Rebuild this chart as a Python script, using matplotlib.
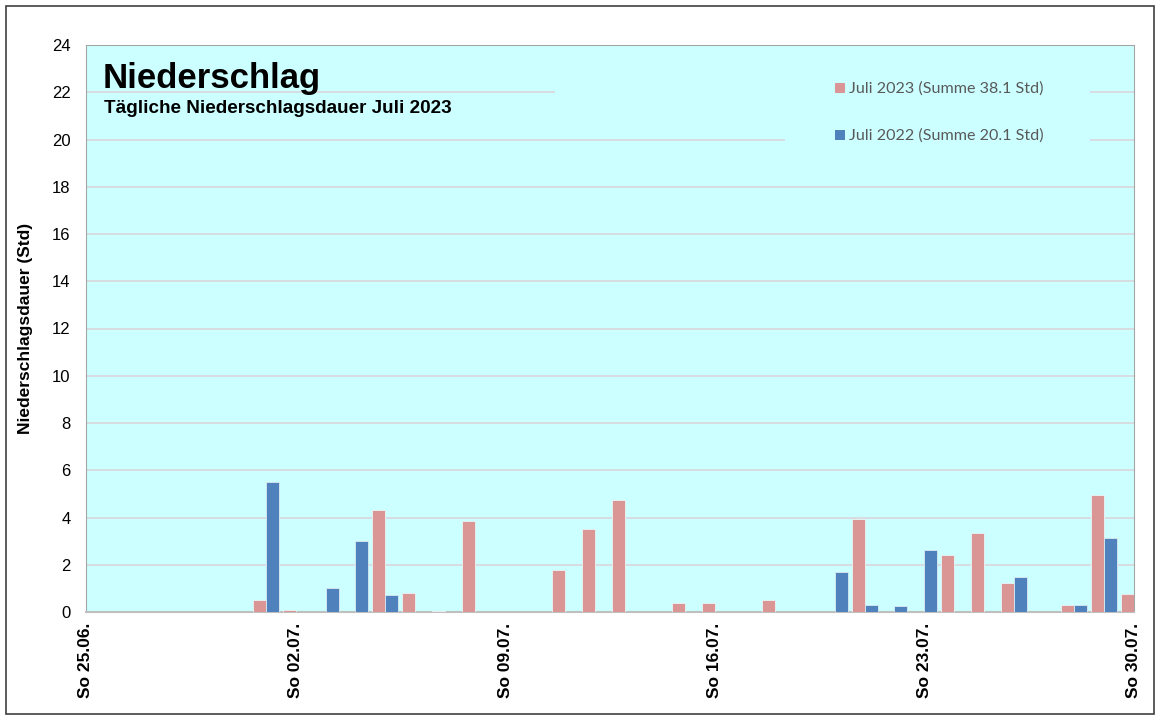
import matplotlib.pyplot as plt
from matplotlib.patches import Rectangle

# Tage 25.06. bis 30.07. (Index 0..35)
tage = ["25.06.", "26.06.", "27.06.", "28.06.", "29.06.", "30.06.",
        "01.07.", "02.07.", "03.07.", "04.07.", "05.07.", "06.07.",
        "07.07.", "08.07.", "09.07.", "10.07.", "11.07.", "12.07.",
        "13.07.", "14.07.", "15.07.", "16.07.", "17.07.", "18.07.",
        "19.07.", "20.07.", "21.07.", "22.07.", "23.07.", "24.07.",
        "25.07.", "26.07.", "27.07.", "28.07.", "29.07.", "30.07."]

# Niederschlagsdauer in Std
juli_2023 = [0, 0, 0, 0, 0, 0,
             0.5, 0.1, 0, 0, 4.33, 0.82,
             0.05, 3.87, 0, 0, 1.76, 3.5,
             4.73, 0, 0.37, 0.37, 0, 0.51,
             0, 0, 3.95, 0, 0, 2.41,
             3.35, 1.23, 0, 0.31, 4.97, 0.75]
juli_2022 = [0, 0, 0, 0, 0, 0,
             5.5, 0, 1.0, 3.0, 0.7, 0,
             0, 0, 0, 0, 0, 0,
             0, 0, 0, 0, 0, 0,
             0, 1.7, 0.31, 0.25, 2.61, 0,
             0, 1.48, 0, 0.31, 3.12, 0]

legende = ["Juli 2023 (Summe 38.1 Std)", "Juli 2022 (Summe 20.1 Std)"]
tick_tage = [0, 7, 14, 21, 28, 35]

ROSA = "#DA9694"
BLAU = "#4F81BD"
CYAN = "#CCFFFF"
GRID = "#D9D5D9"

plt.rcParams['font.family'] = ['Liberation Sans', 'DejaVu Sans']

fig = plt.figure(figsize=(11.58, 7.18), dpi=100)
ax = fig.add_axes([86/1158, 1 - 612/718, 1048/1158, 567/718])
ax.set_facecolor(CYAN)

w = 0.434
for werte, farbe, rand, off in [(juli_2023, ROSA, "#E6F0F0", -w/2),
                                (juli_2022, BLAU, "#D0E4EE", w/2)]:
    xs = [i + off for i, v in enumerate(werte) if v > 0]
    hs = [v for v in werte if v > 0]
    ax.bar(xs, hs, width=w, color=farbe, edgecolor=rand, linewidth=0.7,
           zorder=3)

ax.set_xlim(0, 35)
ax.set_ylim(0, 24)
ax.set_yticks(range(0, 25, 2))
ax.yaxis.grid(True, color=GRID, linewidth=1.2, zorder=0)
ax.set_axisbelow(True)
ax.set_xticks(tick_tage)
ax.set_xticklabels(["So " + tage[i] for i in tick_tage], rotation=90,
                   fontweight="bold", fontsize=12.5)
ax.tick_params(axis="x", length=0, pad=8)
ax.tick_params(axis="y", length=0, pad=11, labelsize=12)
for s in ax.spines.values():
    s.set_color("#A6A6A6")
ax.spines["bottom"].set_color("#BFBFBF")
ax.spines["bottom"].set_linewidth(1.5)

ax.set_ylabel("Niederschlagsdauer (Std)", fontweight="bold", fontsize=12.5,
              labelpad=14)


def px_x(p):
    return (p - 86) / (1048 / 35)


def px_y(p):
    return (612 - p) / (567 / 24)


# Flächen der Legende verdecken die Gitterlinien
ax.add_patch(Rectangle((px_x(555), px_y(112)), px_x(1090) - px_x(555),
                       px_y(72) - px_y(112), facecolor=CYAN, edgecolor="none",
                       zorder=2))
ax.add_patch(Rectangle((px_x(785), px_y(158)), px_x(1090) - px_x(785),
                       px_y(118) - px_y(158), facecolor=CYAN, edgecolor="none",
                       zorder=2))

for farbe, text, py in [(ROSA, legende[0], 88), (BLAU, legende[1], 135)]:
    ax.add_patch(Rectangle((px_x(835), px_y(py + 5)), px_x(845) - px_x(835),
                           px_y(py - 5) - px_y(py + 5), facecolor=farbe,
                           edgecolor="none", zorder=4))
    ax.text(px_x(849), px_y(py + 1), text, fontsize=11.6, color="#595959",
            family=["Lato", "DejaVu Sans"], va="center", ha="left", zorder=5)

fig.text(103/1158, 1 - 88/718, "Niederschlag", fontsize=25,
         fontweight="bold", ha="left", va="baseline")
fig.text(104/1158, 1 - 113/718, "Tägliche Niederschlagsdauer Juli 2023",
         fontsize=13.6, fontweight="bold", ha="left", va="baseline")

fig.patches.append(Rectangle((6/1158, 4/718), 1148/1158, 708/718,
                             transform=fig.transFigure, fill=False,
                             edgecolor="#404040", linewidth=1.2))

fig.savefig("out.png", dpi=100)
